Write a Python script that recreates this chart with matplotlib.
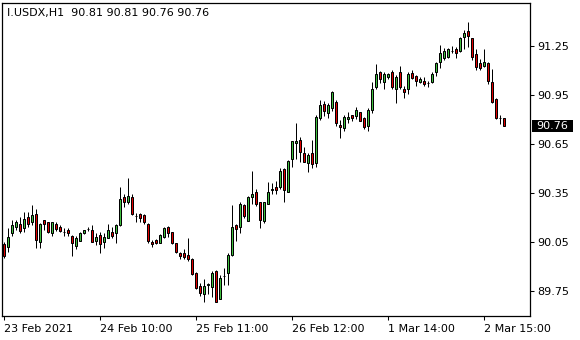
import matplotlib
matplotlib.use("Agg")
import matplotlib.pyplot as plt
import matplotlib.transforms as mtransforms
from matplotlib.patches import Rectangle
import numpy as np

symbol_title = "I.USDX,H1  90.81 90.81 90.76 90.76"

opens = [90.038, 90.018, 90.103, 90.140, 90.160, 90.134, 90.201, 90.171, 90.220, 90.050,
         90.183, 90.171, 90.103, 90.158, 90.140, 90.110, 90.122, 90.089, 90.027, 90.058,
         90.107, 90.129, 90.122, 90.058, 90.091, 90.048, 90.073, 90.109, 90.107, 90.154,
         90.325, 90.293, 90.323, 90.212, 90.220, 90.213, 90.160, 90.052, 90.062, 90.046,
         90.079, 90.140, 90.109, 90.042, 89.981, 89.981, 89.969, 89.944, 89.858, 89.781,
         89.732, 89.789, 89.776, 89.872, 89.699, 89.840, 89.858, 89.970, 90.152, 90.140,
         90.275, 90.180, 90.323, 90.354, 90.293, 90.179, 90.281, 90.371, 90.385, 90.385,
         90.495, 90.358, 90.556, 90.654, 90.674, 90.593, 90.532, 90.593, 90.532, 90.807,
         90.893, 90.842, 90.872, 90.905, 90.766, 90.746, 90.803, 90.826, 90.823, 90.844,
         90.807, 90.762, 90.858, 90.997, 91.089, 91.031, 91.062, 91.089, 90.985, 91.089,
         90.987, 90.987, 91.087, 91.066, 91.028, 91.036, 91.024, 91.031, 91.089, 91.154,
         91.175, 91.184, 91.220, 91.230, 91.219, 91.307, 91.342, 91.297, 91.199, 91.144,
         91.128, 91.144, 91.028, 90.924, 90.810, 90.810]
highs = [90.050, 90.134, 90.185, 90.185, 90.201, 90.232, 90.232, 90.277, 90.250, 90.165,
         90.185, 90.172, 90.172, 90.171, 90.154, 90.134, 90.134, 90.093, 90.087, 90.109,
         90.124, 90.142, 90.154, 90.107, 90.109, 90.103, 90.160, 90.140, 90.160, 90.388,
         90.342, 90.440, 90.342, 90.226, 90.226, 90.220, 90.169, 90.062, 90.066, 90.099,
         90.140, 90.148, 90.113, 90.046, 89.987, 90.009, 90.074, 89.950, 89.866, 89.797,
         89.822, 89.801, 89.874, 89.878, 89.848, 89.889, 89.981, 90.277, 90.160, 90.295,
         90.283, 90.333, 90.485, 90.372, 90.297, 90.297, 90.415, 90.409, 90.423, 90.501,
         90.501, 90.552, 90.670, 90.780, 90.691, 90.630, 90.597, 90.674, 90.827, 90.919,
         90.915, 90.899, 90.974, 90.919, 90.797, 90.827, 90.846, 90.829, 90.878, 90.845,
         90.813, 90.868, 91.031, 91.140, 91.097, 91.093, 91.086, 91.103, 91.072, 91.128,
         91.007, 91.089, 91.103, 91.072, 91.062, 91.060, 91.036, 91.089, 91.154, 91.256,
         91.236, 91.240, 91.252, 91.246, 91.307, 91.348, 91.399, 91.301, 91.232, 91.169,
         91.232, 91.154, 91.109, 90.930, 90.827, 90.810]
lows = [89.952, 89.991, 90.089, 90.123, 90.103, 90.111, 90.144, 90.154, 90.011, 90.011,
        90.123, 90.105, 90.089, 90.119, 90.113, 90.089, 90.089, 89.966, 90.007, 90.054,
        90.097, 90.115, 90.047, 90.032, 89.981, 90.011, 90.072, 90.073, 90.042, 90.148,
        90.262, 90.281, 90.218, 90.174, 90.171, 90.160, 90.042, 90.020, 90.038, 90.045,
        90.073, 90.082, 90.038, 89.981, 89.948, 89.948, 89.935, 89.846, 89.760, 89.721,
        89.684, 89.732, 89.714, 89.680, 89.698, 89.787, 89.787, 89.964, 90.058, 90.107,
        90.199, 90.179, 90.283, 90.272, 90.134, 90.168, 90.280, 90.342, 90.342, 90.372,
        90.296, 90.357, 90.511, 90.556, 90.541, 90.540, 90.480, 90.501, 90.511, 90.797,
        90.821, 90.807, 90.852, 90.760, 90.685, 90.731, 90.780, 90.793, 90.805, 90.789,
        90.740, 90.731, 90.842, 90.985, 91.025, 90.985, 91.046, 90.985, 90.903, 90.987,
        90.933, 90.954, 91.048, 91.005, 91.022, 91.007, 91.001, 91.022, 91.066, 91.113,
        91.164, 91.175, 91.205, 91.175, 91.215, 91.232, 91.246, 91.164, 91.103, 91.103,
        91.123, 91.015, 90.904, 90.803, 90.770, 90.760]
closes = [89.964, 90.082, 90.154, 90.171, 90.119, 90.189, 90.158, 90.213, 90.062, 90.158,
          90.158, 90.109, 90.171, 90.130, 90.119, 90.108, 90.103, 90.042, 90.073, 90.103,
          90.122, 90.131, 90.048, 90.079, 90.038, 90.079, 90.123, 90.089, 90.154, 90.311,
          90.296, 90.330, 90.219, 90.210, 90.199, 90.171, 90.058, 90.040, 90.042, 90.091,
          90.134, 90.103, 90.046, 89.991, 89.966, 89.960, 89.948, 89.852, 89.766, 89.736,
          89.781, 89.791, 89.858, 89.681, 89.831, 89.842, 89.970, 90.140, 90.131, 90.283,
          90.209, 90.327, 90.342, 90.283, 90.185, 90.293, 90.358, 90.373, 90.370, 90.485,
          90.368, 90.546, 90.668, 90.671, 90.603, 90.541, 90.583, 90.527, 90.813, 90.887,
          90.854, 90.887, 90.966, 90.777, 90.752, 90.813, 90.815, 90.811, 90.858, 90.793,
          90.752, 90.858, 90.985, 91.077, 91.046, 91.077, 91.077, 90.997, 91.062, 90.997,
          90.970, 91.077, 91.056, 91.036, 91.048, 91.015, 91.022, 91.079, 91.144, 91.205,
          91.221, 91.232, 91.218, 91.205, 91.297, 91.328, 91.311, 91.184, 91.123, 91.113,
          91.154, 91.036, 90.905, 90.811, 90.808, 90.760]

y_ticks = [89.75, 90.05, 90.35, 90.65, 90.95, 91.25]
x_tick_bars = [0, 24, 48, 72, 96, 120]
x_tick_labels = ["23 Feb 2021", "24 Feb 10:00", "25 Feb 11:00",
                 "26 Feb 12:00", "1 Mar 14:00", "2 Mar 15:00"]

W, H = 580, 340
PX_PER_BAR = 4.0
PX_PER_PRICE = 163.3
fig = plt.figure(figsize=(W / 100, H / 100), dpi=100)
fig.patch.set_facecolor("white")
# axes box in pixels: x 2..530, y 3..316 (from top)
ax = fig.add_axes([2 / W, (H - 316) / H, 528 / W, 313 / H])
ax.set_facecolor("white")

o = np.array(opens); h = np.array(highs); l = np.array(lows); c = np.array(closes)
x = np.arange(len(o))
up = c >= o
green = "#3fbf3f"
red = "#e00000"
px_x = 1.0 / PX_PER_BAR
lw_px = 72.0 / 100.0  # one pixel in points

# wicks
ax.vlines(x, l, h, color="black", linewidth=lw_px, zorder=2)
# bodies: 2 px rectangle with 1 px black outline -> 3 px total, 1 px colour
bottoms = np.minimum(o, c)
heights = np.abs(c - o)
colors = [green if u else red for u in up]
ax.bar(x, heights, bottom=bottoms, width=2 * px_x, color=colors,
       edgecolor="black", linewidth=lw_px, zorder=3)

ax.set_xlim(-1.5 * px_x, -1.5 * px_x + 528 * px_x)
ax.set_ylim(91.25 - 270 / PX_PER_PRICE, 91.25 + 43 / PX_PER_PRICE)

for s in ax.spines.values():
    s.set_color("black")
    s.set_linewidth(0.9)

ax.yaxis.tick_right()
ax.set_yticks(y_ticks)
ax.set_yticklabels([f"{v:.2f}" for v in y_ticks])
ax.set_xticks(x_tick_bars)
ax.set_xticklabels(x_tick_labels)
for lab in ax.get_xticklabels():
    lab.set_horizontalalignment("left")
ax.tick_params(axis="both", direction="out", length=3, width=0.75, color="black",
               labelsize=8, labelcolor="black", pad=2.5)
ax.tick_params(axis="x", pad=3)

# title text top-left
ax.text(0.0095, 0.968, symbol_title, transform=ax.transAxes, ha="left", va="center",
        fontsize=8, color="black")

# current price tag
blend = mtransforms.blended_transform_factory(ax.transAxes, ax.transData)
half = 6 / PX_PER_PRICE
ax.add_patch(Rectangle((1.0032, closes[-1] - half), 41 / 528, 2 * half,
                       transform=blend, facecolor="black", edgecolor="none",
                       clip_on=False, zorder=5))
ax.text(1.0032 + 5 / 528, closes[-1], f"{closes[-1]:.2f}", transform=blend,
        ha="left", va="center", fontsize=8, color="white", clip_on=False, zorder=6)

fig.savefig("out.png", dpi=100, facecolor="white")
